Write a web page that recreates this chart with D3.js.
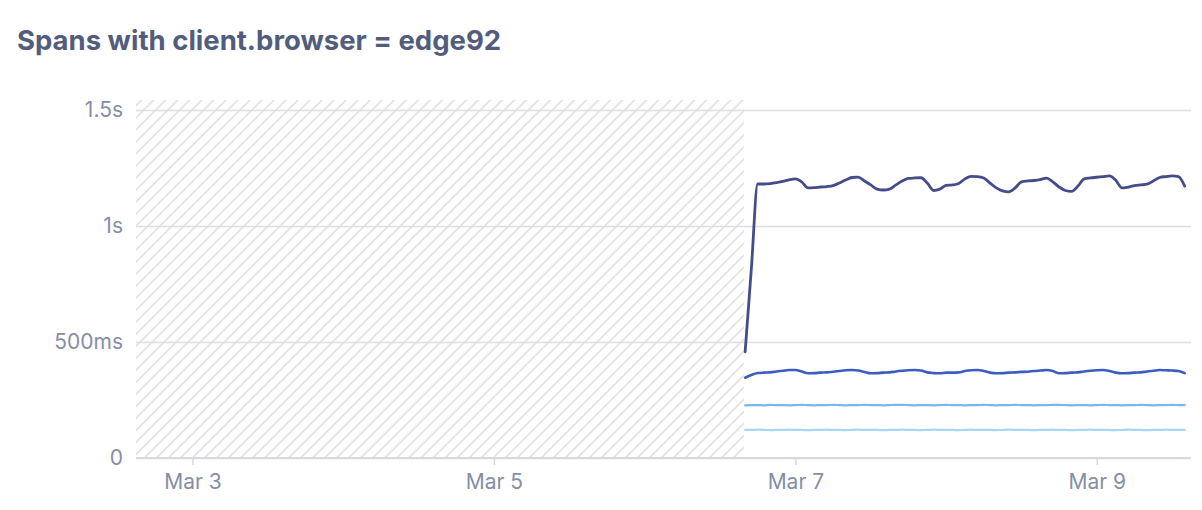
<!DOCTYPE html>
<html><head><meta charset="utf-8">
<script src="https://cdn.jsdelivr.net/npm/d3@7"></script>
<style>
html,body{margin:0;padding:0;background:#fff;}
svg{display:block;font-family:Inter,"Noto Sans",sans-serif;}
</style></head>
<body><svg id="chart" width="1202" height="510"></svg>
<script>
const title = "Spans with client.browser = edge92";
const yTickValues = [0, 500, 1000, 1500];
const yTickLabels = ["0", "500ms", "1s", "1.5s"];
const xTickDates = ["2024-03-03", "2024-03-05", "2024-03-07", "2024-03-09"];
const xTickLabels = ["Mar 3", "Mar 5", "Mar 7", "Mar 9"];
const domainStart = "2024-03-02T15:00:00Z";
const domainEnd = "2024-03-09T15:00:00Z";
const noDataUntil = "2024-03-06T15:50:00Z";
const seriesStart = "2024-03-06T16:00:00Z";
const seriesNames = ["p99", "p95", "p75", "p50"];
const seriesColors = ["#444d8a", "#3b5cc0", "#7ab7f0", "#a8d6f7"];
const p99 = [458,820,1181,1181,1183,1187,1192,1199,1203,1190,1164,1165,1168,1170,1174,1185,1198,1209,1211,1194,1177,1159,1155,1159,1177,1194,1205,1207,1208,1185,1153,1159,1175,1177,1183,1203,1214,1213,1207,1185,1164,1151,1147,1164,1190,1194,1196,1200,1206,1190,1168,1153,1149,1172,1203,1207,1210,1213,1216,1198,1164,1168,1174,1177,1180,1194,1209,1213,1216,1213,1172];
const p95 = [346,358,366,368,369,373,376,379,379,373,365,366,368,369,372,375,378,379,377,371,365,366,368,369,373,376,378,379,377,369,366,365,368,368,369,375,378,379,375,368,365,366,368,369,371,372,375,377,379,375,365,366,368,369,373,376,378,379,375,368,365,366,368,369,373,376,379,378,377,375,366];
const p75 = [227,228,228,227,229,228,228,227,228,229,228,227,228,228,229,228,227,228,228,229,228,228,227,228,229,229,228,227,228,228,227,228,229,228,228,227,228,228,229,228,227,228,228,229,228,228,227,228,228,229,229,228,227,228,228,227,228,229,228,228,227,228,228,229,228,227,228,228,229,228,228];
const p50 = [121,121,122,121,120,121,121,122,121,121,120,121,121,122,121,121,120,121,122,121,121,121,120,121,121,122,121,121,120,121,122,121,121,121,120,121,122,121,121,121,120,121,122,121,121,121,120,121,121,122,121,121,120,121,121,122,121,121,121,120,121,122,121,121,120,121,121,122,121,121,121];

const svg = d3.select("#chart");
const M = {left:136, right:1191, top:100, bottom:458};

const x = d3.scaleUtc().domain([new Date(domainStart), new Date(domainEnd)]).range([M.left, M.right]);
const y = d3.scaleLinear().domain([0, 1543]).range([M.bottom, M.top]);

// title
svg.append("text").attr("x", 17).attr("y", 50).text(title)
  .attr("font-size", 27.5).attr("font-weight", 650).attr("fill", "#525d7d");

// hatch pattern
const defs = svg.append("defs");
const pat = defs.append("pattern").attr("id","hatch").attr("patternUnits","userSpaceOnUse")
  .attr("width", 8.5).attr("height", 8.5).attr("patternTransform","rotate(45)");
pat.append("line").attr("x1",0).attr("y1",0).attr("x2",0).attr("y2",8.5)
  .attr("stroke","#e3e3e5").attr("stroke-width",3.6);

const t0 = new Date(noDataUntil);
svg.append("rect").attr("x", x.range()[0]).attr("y", M.top)
  .attr("width", x(t0) - x.range()[0]).attr("height", M.bottom - M.top)
  .attr("fill", "url(#hatch)");

// y grid + labels
const yAxis = d3.axisLeft(y).tickValues(yTickValues).tickSize(-(M.right - M.left))
  .tickFormat((d,i) => yTickLabels[i]).tickPadding(13);
const gy = svg.append("g").attr("transform", `translate(${M.left},0)`).call(yAxis);
gy.select(".domain").remove();
gy.selectAll(".tick line").attr("stroke", "#dcdee5").attr("stroke-width", 1.3);
gy.selectAll(".tick text").attr("font-size", 21).attr("fill", "#858ea6")
  .attr("font-family", "Inter, sans-serif");

// x axis
const xAxis = d3.axisBottom(x).tickValues(xTickDates.map(d => new Date(d + "T00:00:00Z")))
  .tickFormat((d,i) => xTickLabels[i]).tickSize(7).tickPadding(9);
const gx = svg.append("g").attr("transform", `translate(0,${M.bottom})`).call(xAxis);
gx.select(".domain").attr("stroke", "#d6d9e0").attr("stroke-width", 2).attr("d", `M${M.left},0H${M.right}`);
gx.selectAll(".tick line").attr("stroke", "#d6d9e0").attr("stroke-width", 1.5);
gx.selectAll(".tick text").attr("font-size", 21).attr("fill", "#858ea6")
  .attr("font-family", "Inter, sans-serif");

// series
const s0 = new Date(seriesStart);
const allSeries = [p50, p75, p95, p99];
const allColors = [seriesColors[3], seriesColors[2], seriesColors[1], seriesColors[0]];
const line = d3.line().curve(d3.curveMonotoneX).x((d,i) => x(d3.utcHour.offset(s0, i))).y(d => y(d));
allSeries.forEach((vals, k) => {
  svg.append("path").datum(vals).attr("d", line)
    .attr("fill","none").attr("stroke", allColors[k])
    .attr("stroke-width", k === 3 ? 2.8 : (k === 2 ? 2.6 : 2.2))
    .attr("stroke-linejoin","round").attr("stroke-linecap","round");
});
</script></body></html>
